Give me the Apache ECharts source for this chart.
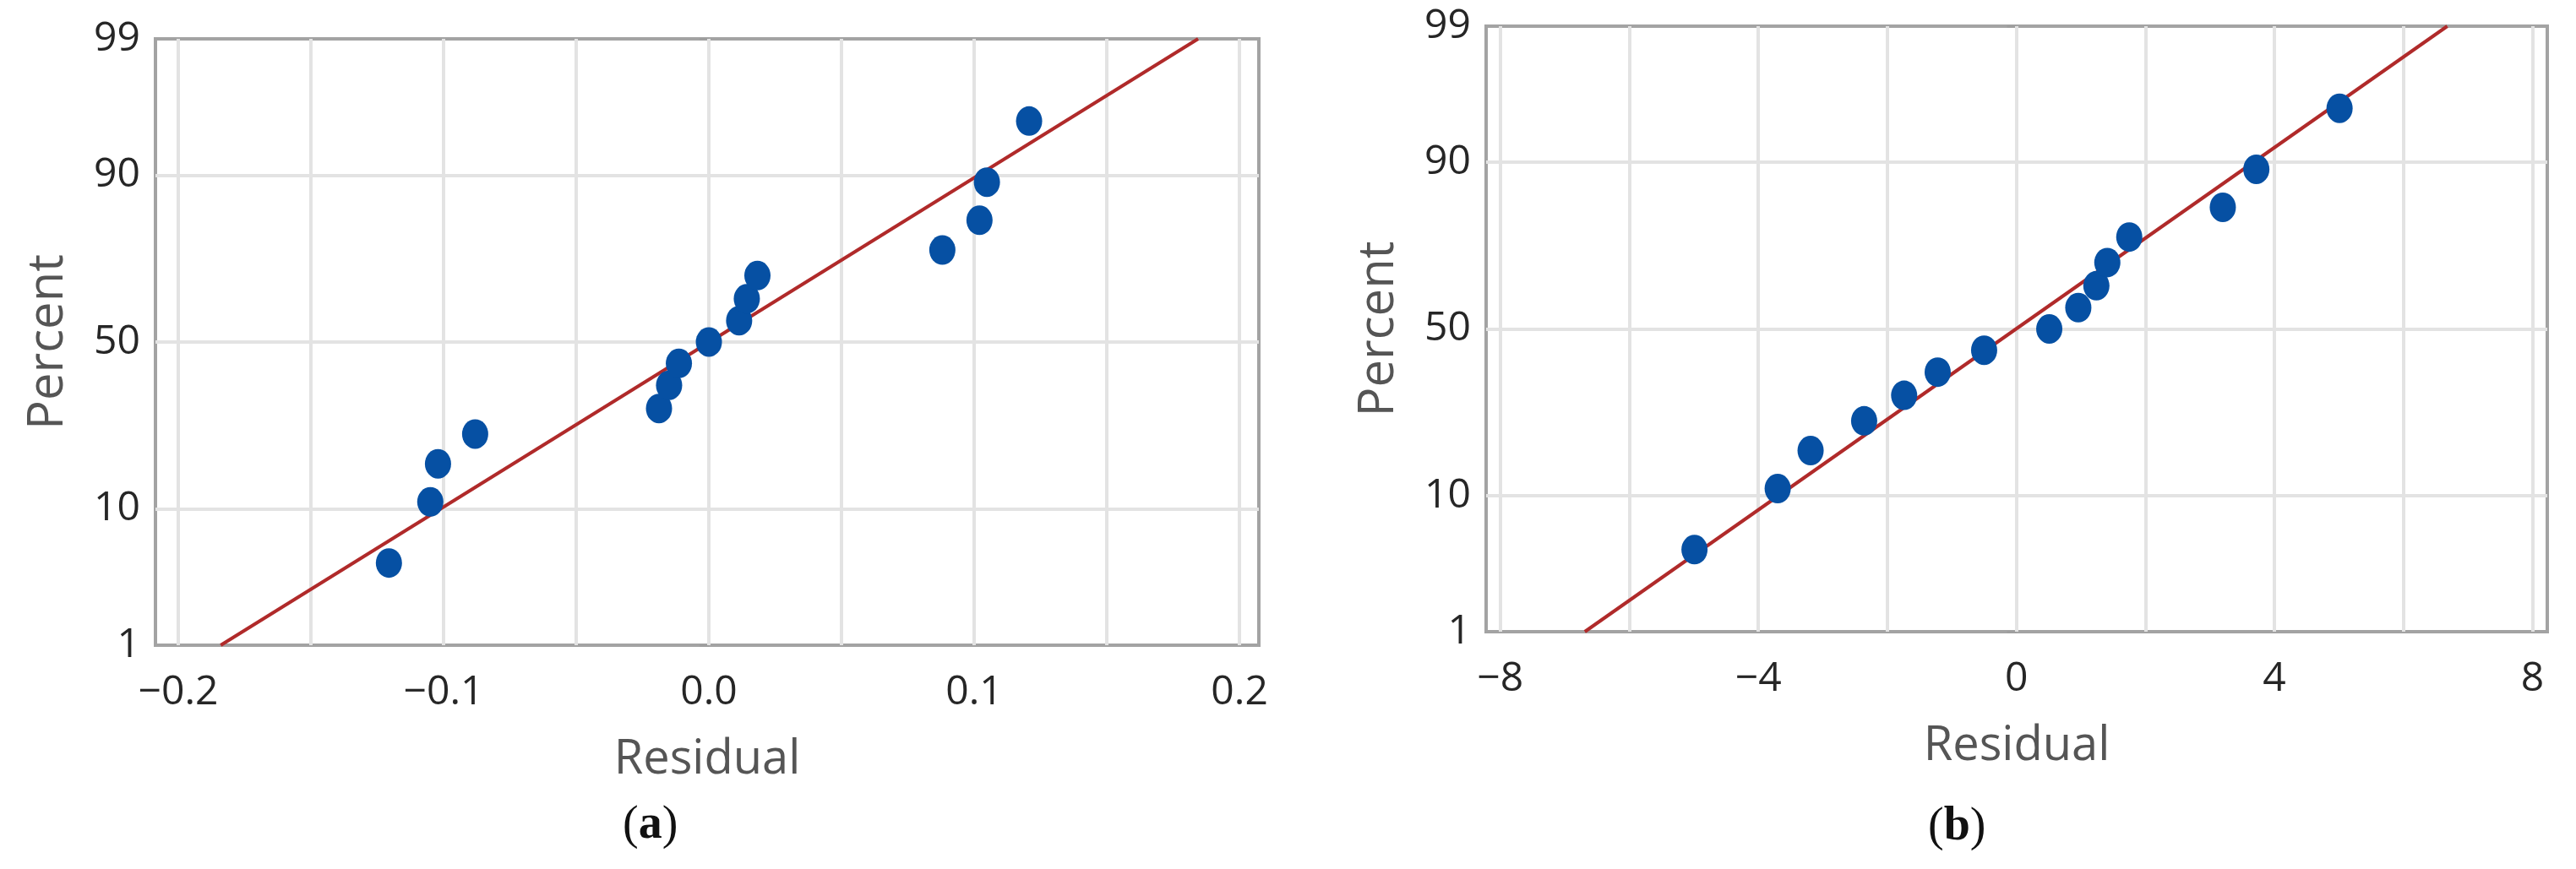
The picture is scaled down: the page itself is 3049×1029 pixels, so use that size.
<!DOCTYPE html>
<html>
<head>
<meta charset="utf-8">
<script src="https://cdn.jsdelivr.net/npm/echarts@6/dist/echarts.min.js"></script>
<style>
html,body{margin:0;padding:0;background:#fff;}
#chart{width:3049px;height:1029px;}
</style>
</head>
<body>
<div id="chart"></div>
<script>
// ---- data ----
const percentA = [4.5, 11.0, 17.5, 24.0, 30.5, 37.0, 43.5, 50.0, 56.5, 63.0, 69.5, 76.0, 82.5, 89.0, 95.5];
const residualA = [-0.1206, -0.105, -0.1021, -0.0881, -0.0188, -0.015, -0.0113, 0.0, 0.0114, 0.0143, 0.0183, 0.088, 0.102, 0.1048, 0.1207];
const percentB = [4.5, 11.0, 17.5, 24.0, 30.5, 37.0, 43.5, 50.0, 56.5, 63.0, 69.5, 76.0, 82.5, 89.0, 95.5];
const residualB = [-4.99, -3.70, -3.19, -2.36, -1.74, -1.22, -0.50, 0.51, 0.96, 1.24, 1.41, 1.75, 3.20, 3.72, 5.01];
const fitResidualA = [-0.184, 0.1844];
const fitPercentA = [1, 99];
const fitResidualB = [-6.69, 6.68];
const fitPercentB = [1, 99];
const yTickPercents = [1, 10, 50, 90, 99];
const yGridPercents = [10, 50, 90];
const xTicksA = [-0.2, -0.1, 0, 0.1, 0.2];
const xGridA = [-0.2, -0.15, -0.1, -0.05, 0, 0.05, 0.1, 0.15, 0.2];
const xTicksB = [-8, -4, 0, 4, 8];
const xGridB = [-8, -6, -4, -2, 0, 2, 4, 6, 8];

// inverse standard normal CDF (Acklam) - maps percent to probability-scale position
function normInv(p) {
  const a = [-3.969683028665376e+01, 2.209460984245205e+02, -2.759285104469687e+02, 1.383577518672690e+02, -3.066479806614716e+01, 2.506628277459239e+00];
  const b = [-5.447609879822406e+01, 1.615858368580409e+02, -1.556989798598866e+02, 6.680131188771972e+01, -1.328068155288572e+01];
  const c = [-7.784894002430293e-03, -3.223964580411365e-01, -2.400758277161838e+00, -2.549732539343734e+00, 4.374664141464968e+00, 2.938163982698783e+00];
  const d = [7.784695709041462e-03, 3.224671290700398e-01, 2.445134137142996e+00, 3.754408661907416e+00];
  const pl = 0.02425, ph = 1 - pl;
  let q, r;
  if (p < pl) {
    q = Math.sqrt(-2 * Math.log(p));
    return (((((c[0]*q+c[1])*q+c[2])*q+c[3])*q+c[4])*q+c[5]) / ((((d[0]*q+d[1])*q+d[2])*q+d[3])*q+1);
  } else if (p <= ph) {
    q = p - 0.5; r = q * q;
    return (((((a[0]*r+a[1])*r+a[2])*r+a[3])*r+a[4])*r+a[5])*q / (((((b[0]*r+b[1])*r+b[2])*r+b[3])*r+b[4])*r+1);
  } else {
    q = Math.sqrt(-2 * Math.log(1 - p));
    return -(((((c[0]*q+c[1])*q+c[2])*q+c[3])*q+c[4])*q+c[5]) / ((((d[0]*q+d[1])*q+d[2])*q+d[3])*q+1);
  }
}
const zOf = pc => normInv(pc / 100);
const yMin = zOf(1), yMax = zOf(99);
const yTickZ = yTickPercents.map(zOf);

const FONT = "'Open Sans', 'Noto Sans', sans-serif";
const GRID_LINE = {color: '#e3e3e3', width: 4, type: 'solid'};
const AXIS_GRAY = '#9e9e9e';

function fmtMinus(s) { return s.replace('-', '\u2212'); }

function yAxisCfg(gi) {
  return {
    gridIndex: gi, type: 'value', min: yMin, max: yMax,
    axisLine: {show: false}, splitLine: {show: false},
    axisTick: {show: true, customValues: yTickZ, length: 11, lineStyle: {color: AXIS_GRAY, width: 3}},
    axisLabel: {
      customValues: yTickZ, fontSize: 48, fontFamily: FONT, color: '#262626', margin: 18,
      padding: [14, 0, 0, 0],
      formatter: v => {
        let best = 0;
        yTickZ.forEach((z, i) => { if (Math.abs(z - v) < Math.abs(yTickZ[best] - v)) best = i; });
        return String(yTickPercents[best]);
      }
    },
    name: 'Percent', nameLocation: 'middle', nameGap: 98,
    nameTextStyle: {fontSize: 58, fontFamily: FONT, color: '#555555'}
  };
}
function xAxisCfg(gi, min, max, ticks, fmt) {
  return {
    gridIndex: gi, type: 'value', min: min, max: max,
    axisLine: {show: false}, splitLine: {show: false},
    axisTick: {show: true, customValues: ticks, length: 12, lineStyle: {color: AXIS_GRAY, width: 3}},
    axisLabel: {customValues: ticks, fontSize: 48, fontFamily: FONT, color: '#262626', margin: 32, formatter: fmt},
    name: 'Residual', nameLocation: 'middle', nameGap: 108,
    nameTextStyle: {fontSize: 56, fontFamily: FONT, color: '#555555'}
  };
}
function gridMarks(xg) {
  return {
    silent: true, symbol: ['none', 'none'], z: 1,
    label: {show: false}, lineStyle: GRID_LINE, emphasis: {disabled: true},
    data: xg.map(v => ({xAxis: v})).concat(yGridPercents.map(p => ({yAxis: zOf(p)})))
  };
}
function fitSeries(gi, xs, ps, xg) {
  return {
    type: 'line', xAxisIndex: gi, yAxisIndex: gi, z: 2,
    data: xs.map((x, i) => [x, zOf(ps[i])]),
    symbol: 'none', lineStyle: {color: '#b02a2a', width: 4},
    markLine: gridMarks(xg)
  };
}
function pointSeries(gi, xs, ps) {
  return {
    type: 'scatter', xAxisIndex: gi, yAxisIndex: gi, z: 3,
    data: xs.map((x, i) => [x, zOf(ps[i])]),
    symbol: 'circle', symbolSize: [31, 35],
    itemStyle: {color: '#0650a3', opacity: 1}
  };
}

const chart = echarts.init(document.getElementById('chart'), null, {renderer: 'canvas'});
chart.setOption({
  animation: false,
  backgroundColor: '#ffffff',
  grid: [
    {left: 184, top: 46, width: 1306, height: 718, show: true, borderColor: '#a3a3a3', borderWidth: 4, backgroundColor: '#ffffff'},
    {left: 1759, top: 31, width: 1256, height: 717, show: true, borderColor: '#a3a3a3', borderWidth: 4, backgroundColor: '#ffffff'}
  ],
  xAxis: [
    xAxisCfg(0, -0.2086, 0.2073, xTicksA, v => fmtMinus(v.toFixed(1))),
    xAxisCfg(1, -8.22, 8.23, xTicksB, v => fmtMinus(String(Math.round(v))))
  ],
  yAxis: [yAxisCfg(0), yAxisCfg(1)],
  series: [
    fitSeries(0, fitResidualA, fitPercentA, xGridA),
    pointSeries(0, residualA, percentA),
    fitSeries(1, fitResidualB, fitPercentB, xGridB),
    pointSeries(1, residualB, percentB)
  ],
  graphic: [
    {type: 'text', left: 737, top: 950, style: {text: '({a|a})', fontSize: 56, fontFamily: "'Liberation Serif', serif", fill: '#111', rich: {a: {fontSize: 56, fontWeight: 'bold', fontFamily: "'Liberation Serif', serif", fill: '#111'}}}},
    {type: 'text', left: 2282, top: 952, style: {text: '({b|b})', fontSize: 56, fontFamily: "'Liberation Serif', serif", fill: '#111', rich: {b: {fontSize: 56, fontWeight: 'bold', fontFamily: "'Liberation Serif', serif", fill: '#111'}}}}
  ]
});
</script>
</body>
</html>
